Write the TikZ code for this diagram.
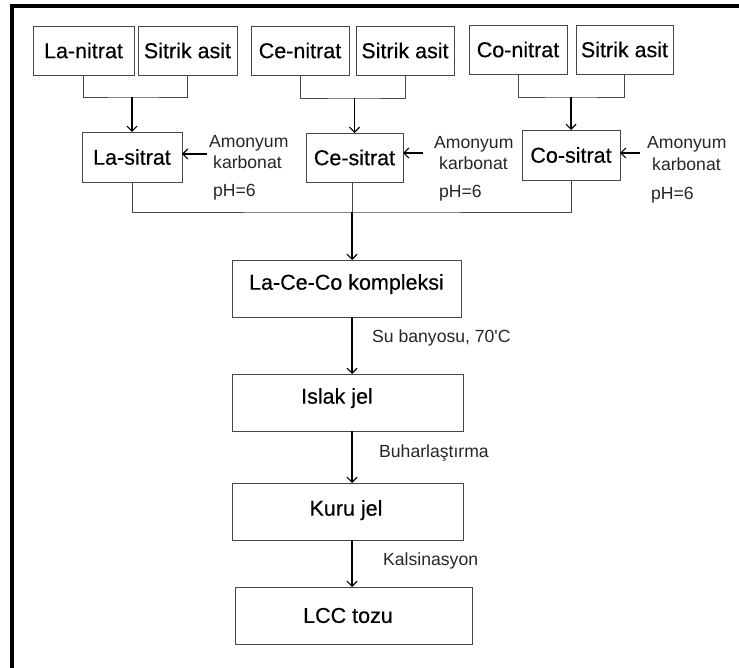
\documentclass[tikz,border=0pt]{standalone}
\usepackage{fontspec}
\setmainfont{Liberation Sans}
\newfontfamily\boxfont[FakeBold=0.35]{Liberation Sans}
\usetikzlibrary{arrows.meta}
\tikzset{
  box/.style={draw=black!72, line width=0.9pt, fill=white, inner sep=0pt, outer sep=0pt,
    font=\boxfont\fontsize{21.5}{24}\selectfont},
  lift/.style={text depth=0pt, text height=#1},
  conn/.style={draw=black!72, line width=0.9pt},
  arr/.style={draw=black, line width=1.4pt, -{Straight Barb[length=5pt,width=10pt,line width=1.2pt]}},
  small/.style={inner sep=0pt, anchor=base west, font=\fontsize{17.6}{19}\selectfont, text=black!85},
}
\begin{document}
\begin{tikzpicture}[x=1pt,y=-1pt]
\useasboundingbox (0,0) rectangle (739,668);
\fill[white] (0,0) rectangle (739,668);
% frame (top and left only)
\draw[line width=4pt, line join=miter] (739,6) -- (12,6) -- (12,668);

% top row
\node[box, minimum width=101, minimum height=49] (lan) at (83.5,50.5) {La-nitrat};
\node[box, minimum width=99, minimum height=49] (sa1) at (187.5,50.5) {Sitrik asit};
\node[box, minimum width=98, minimum height=49] (cen) at (300,50.5) {Ce-nitrat};
\node[box, minimum width=98, minimum height=49] (sa2) at (405,50.5) {Sitrik asit};
\node[box, minimum width=98, minimum height=49] (con) at (518,49.5) {Co-nitrat};
\node[box, minimum width=97, minimum height=49] (sa3) at (624.5,49.5) {Sitrik asit};

% sitrat row
\node[box, minimum width=100, minimum height=50] (las) at (132,157) {La-sitrat};
\node[box, minimum width=97, minimum height=49] (ces) at (354.5,157.5) {Ce-sitrat};
\node[box, minimum width=98, minimum height=50] (cos) at (571,155) {Co-sitrat};

% main column
\node[box, lift=2.4pt, minimum width=229, minimum height=57] (kom) at (346.5,288.5) {La-Ce-Co kompleksi};
\node[box, lift=2.4pt, minimum width=231, minimum height=57] (isl) at (347.5,402.5) {\hspace*{-21pt}Islak jel};
\node[box, lift=8.4pt, minimum width=231, minimum height=57] (kur) at (347.5,511.5) {\hspace*{-3pt}Kuru jel};
\node[box, minimum width=237, minimum height=57] (lcc) at (353.5,615.5) {\hspace*{-11pt}LCC tozu};

% junctions
\coordinate (j1) at (las.north |- 0,97);
\coordinate (j2) at (ces.north |- 0,98);
\coordinate (j3) at (cos.north |- 0,97);
\coordinate (bus) at (352,212);

\draw[conn] (lan.south) |- (j1) -| (sa1.south);
\draw[arr] (j1) -- (las.north);
\draw[conn] (cen.south) |- (j2) -| (sa2.south);
\draw[arr] (j2) -- (ces.north);
\draw[conn] (con.south) |- (j3) -| (sa3.south);
\draw[arr] (j3) -- (cos.north);

\draw[conn] (las.south) |- (bus) -| (cos.south);
\draw[conn] (ces.south -| bus) -- (bus);
\draw[arr] (bus) -- (bus |- kom.north);

% side reagents
\node[small] (am1) at (209,148) {Amonyum};
\node[small] (kb1) at (213,169) {karbonat};
\node[small] (ph1) at (213,197) {pH=6};
\node[small] (am2) at (434,149) {Amonyum};
\node[small] (kb2) at (439,170) {karbonat};
\node[small] (ph2) at (439,198) {pH=6};
\node[small] (am3) at (647,149) {Amonyum};
\node[small] (kb3) at (652,171) {karbonat};
\node[small] (ph3) at (651,200) {pH=6};

\coordinate (s1) at (207,154);
\coordinate (s2) at (423,153);
\coordinate (s3) at (640,153);
\draw[arr] (s1) -- (las.east |- s1);
\draw[arr] (s2) -- (ces.east |- s2);
\draw[arr] (s3) -- (cos.east |- s3);

% process steps
\draw[arr] (kom.south -| bus) -- (isl.north -| bus);
\draw[arr] (isl.south -| bus) -- (kur.north -| bus);
\draw[arr] (kur.south -| bus) -- (lcc.north -| bus);
\node[small] (t1) at (372,342) {Su banyosu, 70\textquotesingle C};
\node[small] (t2) at (379,457) {Buharlaştırma};
\node[small] (t3) at (383,565) {Kalsinasyon};
\end{tikzpicture}
\end{document}
